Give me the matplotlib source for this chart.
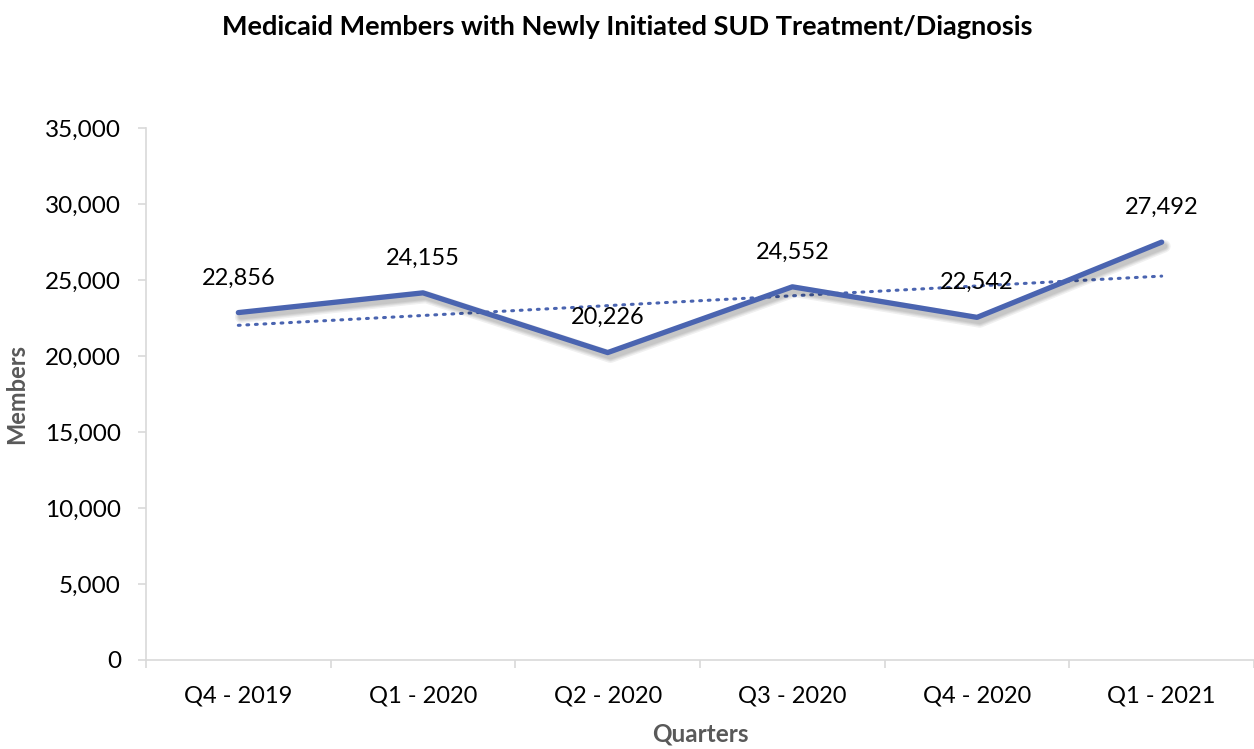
import numpy as np
import matplotlib.pyplot as plt
import matplotlib.patheffects as pe
from matplotlib.ticker import FuncFormatter, FixedLocator

quarters = ["Q4 - 2019", "Q1 - 2020", "Q2 - 2020", "Q3 - 2020", "Q4 - 2020", "Q1 - 2021"]
members = [22856, 24155, 20226, 24552, 22542, 27492]

plt.rcParams["font.family"] = ["Lato", "DejaVu Sans"]

line_color = "#4a64b0"
grey = "#595959"
axis_grey = "#d9d9d9"

fig = plt.figure(figsize=(12.54, 7.49), dpi=100)
ax = fig.add_axes([146 / 1254, 1 - 660 / 749, 1 - 146 / 1254, (660 - 128) / 749])

x = np.arange(len(quarters))
# soft drop shadow like Excel
shadow = [pe.SimpleLineShadow(offset=(2, -3), shadow_color="black", alpha=0.06, linewidth=w)
          for w in (9, 7, 5.5, 4)]
ax.plot(x, members, color=line_color, lw=3.8, solid_capstyle="round", zorder=3,
        path_effects=shadow + [pe.Normal()])

# linear trendline (as in Excel)
k, b = np.polyfit(x, members, 1)
ax.plot(x, k * x + b, color=line_color, lw=2.2, ls=(0, (0.6, 2.2)),
        dash_capstyle="round", zorder=2)

for xi, v in zip(x, members):
    ax.annotate(f"{v:,}", (xi, v), xytext=(0, 25), textcoords="offset points",
                ha="center", va="center", fontsize=17, color="black", zorder=4)

ax.set_xlim(-0.5, len(quarters) - 0.5)
ax.set_ylim(0, 35000)
ax.set_yticks(range(0, 35001, 5000))
ax.yaxis.set_major_formatter(FuncFormatter(lambda v, p: f"{int(v):,}"))
ax.set_xticks(x)
ax.set_xticklabels(quarters)
ax.xaxis.set_minor_locator(FixedLocator(np.arange(-0.5, len(quarters), 1)))
ax.tick_params(axis="x", which="major", length=0, pad=18, labelsize=17)
ax.tick_params(axis="x", which="minor", length=6, color=axis_grey, width=1.2)
ax.tick_params(axis="y", length=6, color=axis_grey, width=1.2, labelsize=17.5, pad=12)

for s in ["top", "right"]:
    ax.spines[s].set_visible(False)
for s in ["left", "bottom"]:
    ax.spines[s].set_color(axis_grey)
    ax.spines[s].set_linewidth(1.2)

ax.set_ylabel("Members", fontsize=17, fontweight="bold", color=grey, labelpad=12)
ax.set_xlabel("Quarters", fontsize=17.5, fontweight="bold", color=grey, labelpad=12)
fig.text(0.5, 1 - 27 / 749, "Medicaid Members with Newly Initiated SUD Treatment/Diagnosis",
         ha="center", va="center", fontsize=19.5, fontweight="bold")

fig.savefig("out.png", dpi=100)
